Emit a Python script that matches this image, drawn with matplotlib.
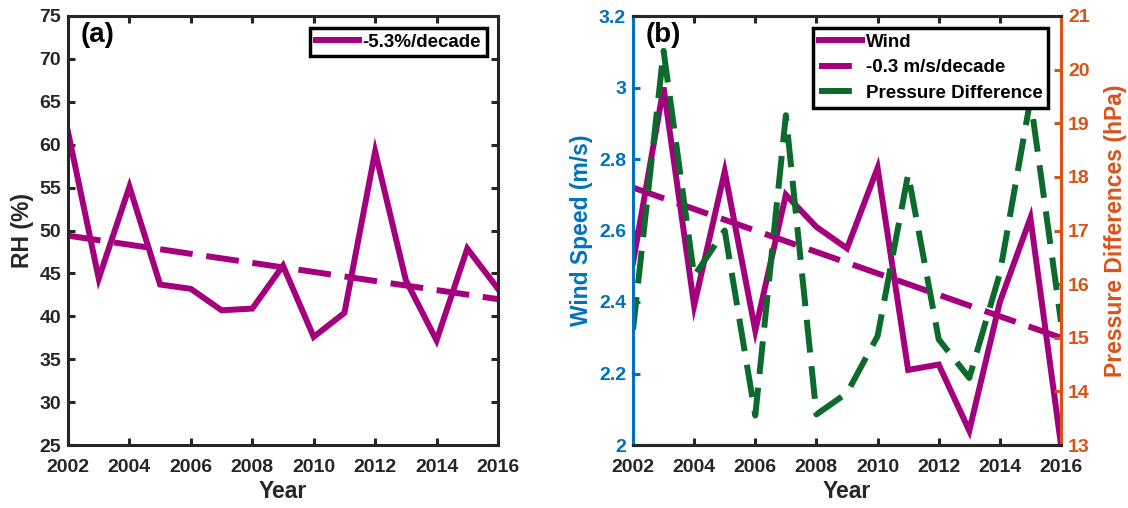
import numpy as np
import matplotlib
matplotlib.use('Agg')
import matplotlib.pyplot as plt
from matplotlib.ticker import FuncFormatter

### data
years = list(range(2002, 2017))
rh = [61.5, 44.4, 55.1, 43.7, 43.2, 40.7, 40.9, 45.9, 37.6, 40.4, 59.2, 44.2, 37.2, 47.9, 43.2]
rh_trend_years = [2002, 2016]
rh_trend = [49.4, 42.0]
rh_label = '-5.3%/decade'

wind = [2.51, 3.0, 2.39, 2.765, 2.32, 2.70, 2.61, 2.55, 2.775, 2.21, 2.225, 2.04, 2.40, 2.635, 2.0]
wind_trend_years = [2002, 2016]
wind_trend = [2.72, 2.30]
wind_label = 'Wind'
wind_trend_label = '-0.3 m/s/decade'

pressure = [15.15, 20.35, 16.15, 17.0, 13.55, 19.15, 13.57, 13.97, 15.03, 18.05, 14.97, 14.25, 16.2, 19.45, 15.3]
pressure_label = 'Pressure Difference'

year_ticks = list(range(2002, 2017, 2))
rh_ticks = list(range(25, 76, 5))
wind_ticks = [2.0, 2.2, 2.4, 2.6, 2.8, 3.0, 3.2]
pres_ticks = list(range(13, 22))

### style
magenta = '#A4007E'
green = '#0C6A2C'
blue = '#0072BD'
orange = '#D95319'
txt = '#262626'
lw = 4.3
dash = (0, (5.5, 2.3))

plt.rcParams['font.family'] = ['Liberation Sans', 'DejaVu Sans']
plt.rcParams['font.weight'] = 'bold'
plt.rcParams['axes.labelweight'] = 'bold'

fig = plt.figure(figsize=(11.28, 5.08), dpi=100)
ax1 = fig.add_axes([68/1128, 63/508, 430/1128, 429/508])
ax2 = fig.add_axes([633/1128, 63/508, 428/1128, 429/508])
ax3 = ax2.twinx()

gfmt = FuncFormatter(lambda v, p: f'{v:g}')

def style_axis(ax):
    for s in ax.spines.values():
        s.set_linewidth(2.2)
        s.set_color(txt)
    ax.tick_params(direction='in', length=5, width=2.2, labelsize=14, colors=txt)
    ax.tick_params(axis='x', pad=10)
    ax.tick_params(axis='y', pad=5)

def style_legend(leg):
    leg.get_frame().set_linewidth(2.5)
    for t in leg.get_texts():
        t.set_color('black')

### panel (a)
style_axis(ax1)
ax1.plot(years, rh, color=magenta, lw=lw, solid_joinstyle='miter', label=rh_label)
ax1.plot(rh_trend_years, rh_trend, color=magenta, lw=lw, linestyle=dash)
ax1.set_xlim(2002, 2016)
ax1.set_ylim(25, 75)
ax1.set_xticks(year_ticks)
ax1.set_yticks(rh_ticks)
ax1.tick_params(top=True, right=True)
ax1.set_xlabel('Year', fontsize=16.5, color=txt, labelpad=3)
ax1.set_ylabel('RH (%)', fontsize=16.5, color=txt, labelpad=4)
ax1.text(0.03, 0.985, '(a)', transform=ax1.transAxes, fontsize=20, fontweight='bold',
         color='black', va='top', ha='left')
leg = ax1.legend(loc='upper right', bbox_to_anchor=(0.974, 0.972), borderaxespad=0,
                 fontsize=13.5, handlelength=2.3, handletextpad=0.2, borderpad=0.3,
                 fancybox=False, framealpha=1, edgecolor='black')
style_legend(leg)

### panel (b)
style_axis(ax2)
style_axis(ax3)
l1, = ax2.plot(years, wind, color=magenta, lw=lw, solid_joinstyle='miter', label=wind_label)
l2, = ax2.plot(wind_trend_years, wind_trend, color=magenta, lw=lw, linestyle=dash,
               label=wind_trend_label)
l3, = ax3.plot(years, pressure, color=green, lw=lw, linestyle=dash, label=pressure_label)
ax2.set_xlim(2002, 2016)
ax2.set_ylim(2, 3.2)
ax3.set_ylim(13, 21)
ax2.set_xticks(year_ticks)
ax2.set_yticks(wind_ticks)
ax2.yaxis.set_major_formatter(gfmt)
ax3.set_yticks(pres_ticks)
ax2.tick_params(top=True)
ax2.tick_params(axis='y', colors=blue)
ax3.tick_params(axis='y', colors=orange)
ax3.tick_params(axis='x', top=True, bottom=True)
ax2.spines['left'].set_color(blue)
ax3.spines['left'].set_color(blue)
ax2.spines['right'].set_color(orange)
ax3.spines['right'].set_color(orange)
ax2.set_xlabel('Year', fontsize=16.5, color=txt, labelpad=3)
ax2.set_ylabel('Wind Speed (m/s)', fontsize=16.5, color=blue, labelpad=4)
ax3.set_ylabel('Pressure Differences (hPa)', fontsize=16.5, color=orange, labelpad=10)
ax3.text(0.03, 0.985, '(b)', transform=ax3.transAxes, fontsize=20, fontweight='bold',
         color='black', va='top', ha='left')
leg2 = ax3.legend(handles=[l1, l2, l3], loc='upper right', bbox_to_anchor=(0.97, 0.972),
                  borderaxespad=0, fontsize=13.5, handlelength=2.3, handletextpad=0.2,
                  borderpad=0.3, labelspacing=0.45, fancybox=False, framealpha=1,
                  edgecolor='black')
style_legend(leg2)

fig.savefig('out.png', dpi=100)
